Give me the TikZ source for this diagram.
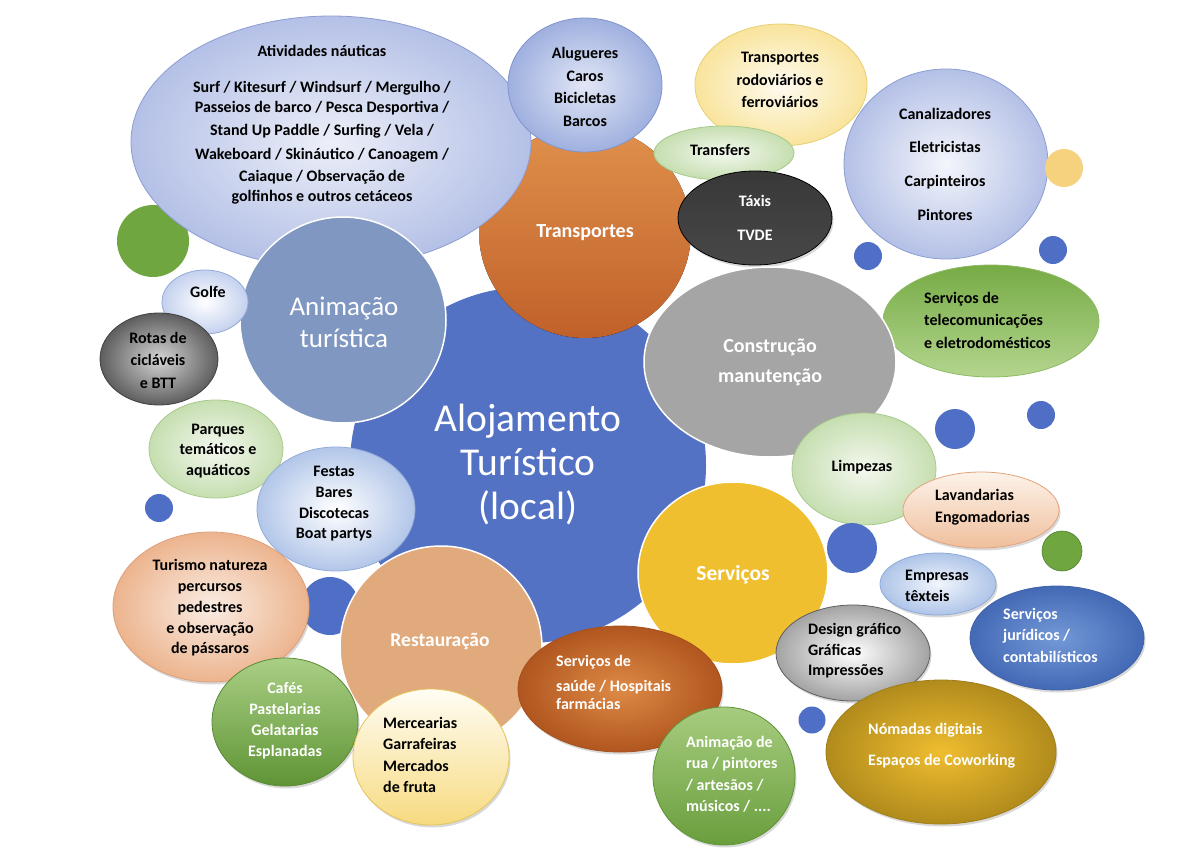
\documentclass[tikz,border=0pt]{standalone}
\usepackage{fontspec}
\setmainfont{Carlito}
\usetikzlibrary{positioning,shadows}

\definecolor{alojblue}{HTML}{5472C4}
\definecolor{dotblue}{HTML}{4F6EC5}
\definecolor{animblue}{HTML}{7F97C1}
\definecolor{lilac}{HTML}{B4C0E6}
\definecolor{lilacline}{HTML}{8C9DD2}
\definecolor{paleblue}{HTML}{B2C6E9}
\definecolor{palebline}{HTML}{93ABD8}
\definecolor{palegreen}{HTML}{C6DEB0}
\definecolor{palegline}{HTML}{A7C98C}
\definecolor{paleyellow}{HTML}{F9E49C}
\definecolor{paleyline}{HTML}{E8CF74}
\definecolor{peach}{HTML}{ECB48E}
\definecolor{peachline}{HTML}{DCA07A}
\definecolor{restpeach}{HTML}{E1AA7D}
\definecolor{servyellow}{HTML}{F0BF2F}
\definecolor{consgray}{HTML}{A5A5A5}
\definecolor{leaf}{HTML}{6FA640}
\definecolor{leafline}{HTML}{4E7F2A}
\definecolor{orangetop}{HTML}{E0904C}
\definecolor{orangebot}{HTML}{C0612A}
\definecolor{alugin}{HTML}{E2E7F6}
\definecolor{alugout}{HTML}{9FB0DF}
\definecolor{alugline}{HTML}{8193CC}
\definecolor{golfout}{HTML}{C4D1EE}
\definecolor{sunny}{HTML}{F6D27F}
\definecolor{teltop}{HTML}{76AB45}
\definecolor{telbot}{HTML}{B3D58E}
\definecolor{telline}{HTML}{8DBA63}
\definecolor{rotin}{HTML}{D4D4D4}
\definecolor{rotout}{HTML}{5E5E5E}
\definecolor{rotline}{HTML}{404040}
\definecolor{caftop}{HTML}{A9CF84}
\definecolor{cafbot}{HTML}{5F9435}
\definecolor{cafline}{HTML}{5A8A34}
\definecolor{mertop}{HTML}{FFFDF4}
\definecolor{merbot}{HTML}{F7DA80}
\definecolor{merline}{HTML}{E5C55A}
\definecolor{saudein}{HTML}{DE8A46}
\definecolor{saudeout}{HTML}{B0561F}
\definecolor{saudeline}{HTML}{A85020}
\definecolor{ruatop}{HTML}{A6CC7F}
\definecolor{ruabot}{HTML}{6A9E3D}
\definecolor{rualine}{HTML}{5E9436}
\definecolor{lavtop}{HTML}{FDF3EA}
\definecolor{lavbot}{HTML}{EFBF9C}
\definecolor{lavline}{HTML}{E3A37A}
\definecolor{texin}{HTML}{F1F5FC}
\definecolor{texout}{HTML}{AEC4E8}
\definecolor{texline}{HTML}{8EAAD9}
\definecolor{jurin}{HTML}{7399D8}
\definecolor{jurout}{HTML}{4469B5}
\definecolor{jurline}{HTML}{3F62A8}
\definecolor{desout}{HTML}{A3A3A3}
\definecolor{desline}{HTML}{5E5E5E}
\definecolor{nomin}{HTML}{EFBD2F}
\definecolor{nomout}{HTML}{B18B1C}
\definecolor{nomline}{HTML}{A07E18}

\begin{document}
\begin{tikzpicture}[x=1pt,y=-1pt,
  lbl/.style={inner sep=0pt,align=center,font=\fontsize{16}{21.5}\selectfont\bfseries},
  wlbl/.style={lbl,text=white},
  lilacbub/.style={draw=lilacline,line width=.8pt,inner color=lilac!25,outer color=lilac},
  bluebub/.style={draw=palebline,line width=.8pt,inner color=white,outer color=paleblue},
  greenbub/.style={draw=palegline,line width=.8pt,inner color=palegreen!20,outer color=palegreen},
  yellowbub/.style={draw=paleyline,line width=.8pt,inner color=paleyellow!15,outer color=paleyellow},
  peachbub/.style={draw=peachline,line width=.8pt,inner color=peach!25,outer color=peach},
  flatbub/.style={draw=white,line width=1.5pt,fill=#1},
  shad/.style={drop shadow={shadow xshift=1.5pt,shadow yshift=-2.5pt,opacity=.3}},
  dot/.style={fill=dotblue}]

\useasboundingbox (0,0) rectangle (1199,848);

% fundo do lado esquerdo
\fill[leaf] (153,241) circle (36);

% centro
\fill[alojblue] (528,465) circle (178);
\node[text=white,inner sep=0pt,align=center,font=\fontsize{39.5}{44}\selectfont] (aloj) at (528,465) {Alojamento\\Turístico\\(local)};

% transportes
\fill[top color=orangetop,bottom color=orangebot] (585,232) circle (106);
\node[wlbl,font=\fontsize{20}{22}\selectfont\bfseries] (transp) at (585,233) {Transportes};

\draw[lilacbub] (331,142) ellipse [x radius=200,y radius=126];
\node[lbl] (nautica) at (322,125) {Atividades náuticas\\[14.5pt]Surf / Kitesurf / Windsurf / Mergulho /\\[-1.5pt]Passeios de barco / Pesca Desportiva /\\[1.5pt]Stand Up Paddle / Surfing / Vela /\\[2.5pt]Wakeboard / Skináutico / Canoagem /\\[0.5pt]Caiaque / Observação de\\[-1.5pt]golfinhos e outros cetáceos};

\draw[draw=alugline,line width=.8pt,inner color=alugin,outer color=alugout] (585,85) ellipse [x radius=77,y radius=67];
\node[lbl,font=\fontsize{16}{22.4}\selectfont\bfseries] (alug) at (585,87) {Alugueres\\Caros\\Bicicletas\\Barcos};

\draw[yellowbub] (781,85) ellipse [x radius=86,y radius=61];
\node[lbl,font=\fontsize{16}{22.5}\selectfont\bfseries] (rodo) at (780,80) {Transportes\\rodoviários e\\ferroviários};

\draw[greenbub] (724,153) ellipse [x radius=70,y radius=27];
\node[lbl] (transf) at (720,150) {Transfers};

\draw[shad,draw=black,line width=.8pt,top color=black!78,middle color=black,bottom color=black!72] (755,218) ellipse [x radius=77,y radius=47];
\node[wlbl,font=\fontsize{16}{33.5}\selectfont\bfseries] (taxis) at (755,218) {Táxis\\TVDE};

% construção e serviços técnicos
\draw[lilacbub,inner color=lilac!15] (946,164) ellipse [x radius=102,y radius=95];
\node[lbl,font=\fontsize{16}{33.7}\selectfont\bfseries] (canal) at (945,164) {Canalizadores\\Eletricistas\\Carpinteiros\\Pintores};
\fill[sunny] (1064,168) circle (19);
\fill[dot] (868,256) circle (14);
\fill[dot] (1053,250) circle (14);

\draw[draw=telline,line width=.8pt,top color=teltop,bottom color=telbot] (991,321) ellipse [x radius=108,y radius=56];
\node[lbl,align=left,anchor=west] (telecom) at (924,320) {Serviços de\\[1pt]telecomunicações\\[1pt]e eletrodomésticos};

\draw[flatbub=consgray] (770,362) ellipse [x radius=126,y radius=95];
\node[wlbl,font=\fontsize{20}{30}\selectfont\bfseries] (constr) at (770,362) {Construção\\manutenção};

% animação turística
\draw[flatbub=animblue] (343,320) circle (103);
\node[wlbl,font=\fontsize{27}{32}\selectfont] (anim) at (344,322) {Animação\\turística};

\draw[bluebub,outer color=golfout] (205,302) ellipse [x radius=43,y radius=32];
\node[lbl] (golfe) at (208,292) {Golfe};

\draw[draw=rotline,line width=.8pt,inner color=rotin,outer color=rotout] (159,359) ellipse [x radius=59,y radius=46];
\node[lbl,font=\fontsize{16}{22.5}\selectfont\bfseries] (rotas) at (158,360) {Rotas de\\cicláveis\\e BTT};

\draw[greenbub] (216,449) ellipse [x radius=67,y radius=49];
\node[lbl,font=\fontsize{16}{20.5}\selectfont\bfseries] (parques) at (218,451) {Parques\\temáticos e\\aquáticos};

\draw[bluebub] (336,509) ellipse [x radius=79,y radius=62];
\node[lbl,font=\fontsize{16}{20.7}\selectfont\bfseries] (festas) at (334,504) {Festas\\Bares\\Discotecas\\Boat partys};

\fill[dot] (159,508) circle (14);

% restauração
\fill[dot] (330,606) circle (29);
\draw[shad,peachbub] (211,607) ellipse [x radius=98,y radius=75];
\node[lbl,font=\fontsize{16}{20.8}\selectfont\bfseries] (natur) at (210,608) {Turismo natureza\\percursos\\pedestres\\e observação\\de pássaros};

\draw[flatbub=restpeach] (441,647) circle (101);
\node[wlbl,font=\fontsize{19.5}{22}\selectfont\bfseries] (rest) at (440,641) {Restauração};

\draw[shad,draw=cafline,line width=.8pt,top color=caftop,bottom color=cafbot] (285,722) ellipse [x radius=73,y radius=64];
\node[wlbl,font=\fontsize{16}{21}\selectfont\bfseries] (cafes) at (285,721) {Cafés\\Pastelarias\\Gelatarias\\Esplanadas};

\draw[shad,draw=merline,line width=.8pt,top color=mertop,bottom color=merbot] (431,757) ellipse [x radius=78,y radius=68];
\node[lbl,align=left,anchor=west,font=\fontsize{16}{21.3}\selectfont\bfseries] (merc) at (383,755) {Mercearias\\Garrafeiras\\Mercados\\de fruta};

% serviços
\draw[flatbub=servyellow] (733,573) ellipse [x radius=95,y radius=91];
\node[wlbl,font=\fontsize{21.5}{24}\selectfont\bfseries] (serv) at (733,575) {Serviços};

\draw[shad,draw=saudeline,line width=.8pt,inner color=saudein,outer color=saudeout] (620,689) ellipse [x radius=102,y radius=63];
\node[wlbl,align=left,anchor=west,font=\fontsize{16}{20}\selectfont\bfseries] (saude) at (556,682) {Serviços de\\[5pt]saúde / Hospitais\\[-2pt]farmácias};

\draw[shad,draw=rualine,line width=.8pt,top color=ruatop,bottom color=ruabot] (724,776) ellipse [x radius=71,y radius=69];
\node[wlbl,align=left,anchor=west,font=\fontsize{16}{21.5}\selectfont\bfseries] (rua) at (686,774) {Animação de\\rua / pintores\\/ artesãos /\\músicos / ....};

\draw[greenbub] (864,469) ellipse [x radius=72,y radius=56];
\node[lbl] (limp) at (862,467) {Limpezas};
\fill[dot] (955,429) circle (20);
\fill[dot] (1041,415) circle (14);

\draw[shad,draw=lavline,line width=.8pt,top color=lavtop,bottom color=lavbot] (981,510) ellipse [x radius=78,y radius=38];
\node[lbl,align=left,anchor=west] (lavand) at (935,507) {Lavandarias\\Engomadorias};

\fill[dot] (852,548) circle (25);
\fill[leaf,draw=leafline,line width=.6pt] (1062,551) circle (20);

\draw[shad,draw=texline,line width=.8pt,inner color=texin,outer color=texout] (938,584) ellipse [x radius=58,y radius=31];
\node[lbl,align=left,anchor=west] (text) at (905,586) {Empresas\\têxteis};

\draw[shad,draw=jurline,line width=.8pt,inner color=jurin,outer color=jurout] (1057,638) ellipse [x radius=87,y radius=52];
\node[wlbl,align=left,anchor=west] (jurid) at (1003,635) {Serviços\\jurídicos /\\contabilísticos};

\draw[shad,draw=desline,line width=.8pt,inner color=white,outer color=desout] (853,653) ellipse [x radius=77,y radius=48];
\node[lbl,align=left,anchor=west,font=\fontsize{16}{20.5}\selectfont\bfseries] (design) at (808,651) {Design gráfico\\Gráficas\\Impressões};

\fill[dot] (812,720) circle (13.5);

\draw[shad,draw=nomline,line width=.8pt,inner color=nomin,outer color=nomout] (941,752) ellipse [x radius=115,y radius=72];
\node[wlbl,align=left,anchor=west,font=\fontsize{16}{31}\selectfont\bfseries] (nomad) at (868,746) {Nómadas digitais\\Espaços de Coworking};

\end{tikzpicture}
\end{document}
